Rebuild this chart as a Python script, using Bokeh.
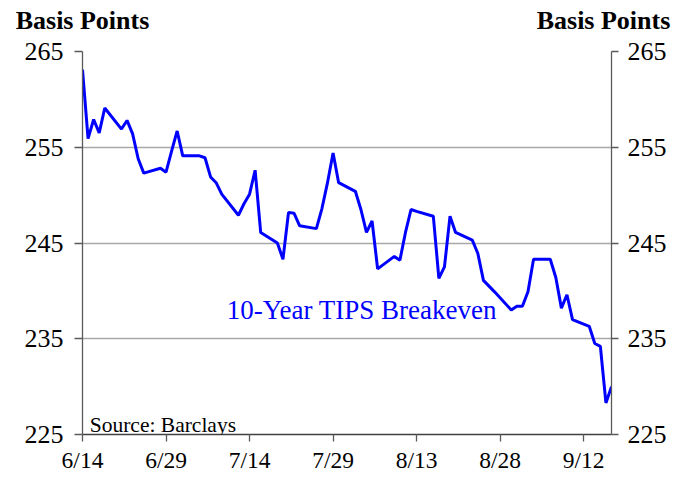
import pandas as pd
from bokeh.plotting import figure
from bokeh.models import Range1d, LinearAxis, FixedTicker, Label
from bokeh.embed import file_html
from bokeh.resources import INLINE

# ---- data ----
dates = ["2004-06-14", "2004-06-15", "2004-06-16", "2004-06-17", "2004-06-18",
         "2004-06-21", "2004-06-22", "2004-06-23", "2004-06-24", "2004-06-25",
         "2004-06-28", "2004-06-29", "2004-06-30", "2004-07-01", "2004-07-02",
         "2004-07-05", "2004-07-06", "2004-07-07", "2004-07-08", "2004-07-09",
         "2004-07-12", "2004-07-13", "2004-07-14", "2004-07-15", "2004-07-16",
         "2004-07-19", "2004-07-20", "2004-07-21", "2004-07-22", "2004-07-23",
         "2004-07-26", "2004-07-27", "2004-07-28", "2004-07-29", "2004-07-30",
         "2004-08-02", "2004-08-03", "2004-08-04", "2004-08-05", "2004-08-06",
         "2004-08-09", "2004-08-10", "2004-08-11", "2004-08-12", "2004-08-13",
         "2004-08-16", "2004-08-17", "2004-08-18", "2004-08-19", "2004-08-20",
         "2004-08-23", "2004-08-24", "2004-08-25", "2004-08-26", "2004-08-27",
         "2004-08-30", "2004-08-31", "2004-09-01", "2004-09-02", "2004-09-03",
         "2004-09-06", "2004-09-07", "2004-09-08", "2004-09-09", "2004-09-10",
         "2004-09-13", "2004-09-14", "2004-09-15", "2004-09-16", "2004-09-17"]
breakeven = [263.1, 255.9, 257.9, 256.5, 259.1,
             256.9, 257.8, 256.4, 253.8, 252.3,
             252.8, 252.4, 254.6, 256.7, 254.1,
             254.1, 253.9, 251.9, 251.3, 250.1,
             247.9, 249.1, 250.1, 252.6, 246.1,
             245.0, 243.3, 248.2, 248.1, 246.8,
             246.5, 248.6, 251.3, 254.4, 251.3,
             250.4, 248.5, 246.1, 247.3, 242.3,
             243.6, 243.2, 246.1, 248.5, 248.3,
             247.8, 241.3, 242.5, 247.8, 246.1,
             245.3, 243.9, 241.1, 240.5, 239.9,
             238.0, 238.4, 238.4, 239.9, 243.3,
             243.3, 241.4, 238.2, 239.6, 237.0,
             236.3, 234.5, 234.2, 228.3, 230.0]
start_date = "2004-06-14"
end_date = "2004-09-17"
x_tick_labels = ["6/14", "6/29", "7/14", "7/29", "8/13", "8/28", "9/12"]
y_ticks = [225, 235, 245, 255, 265]
series_name = "10-Year TIPS Breakeven"
source_text = "Source: Barclays"
axis_title = "Basis Points"

start = pd.Timestamp(start_date)
days = [(pd.Timestamp(d) - start).days for d in dates]
total_days = (pd.Timestamp(end_date) - start).days
x_ticks = [i * 15 for i in range(len(x_tick_labels))]

FONT = "Liberation Serif"
FRAME_W = 529

p = figure(frame_width=FRAME_W, frame_height=383,
           min_border_left=82, min_border_right=62,
           min_border_top=51, min_border_bottom=39,
           width=673, height=473,
           x_range=Range1d(0, total_days), y_range=Range1d(225, 265),
           output_backend="svg", toolbar_location=None,
           background_fill_color="white", border_fill_color="white")
p.outline_line_color = None

p.line(days, breakeven, line_color="#0000FF", line_width=3)

AX = "#5a5a5a"
for ax in [p.xaxis[0], p.yaxis[0]]:
    ax.axis_line_color = AX
    ax.axis_line_width = 1.3
    ax.major_tick_line_color = AX
    ax.major_tick_line_width = 1.3
    ax.minor_tick_line_color = None
    ax.major_tick_in = 0
    ax.major_label_text_font = FONT
    ax.major_label_text_color = "black"

p.xaxis[0].ticker = FixedTicker(ticks=x_ticks)
p.xaxis[0].major_label_overrides = {t: l for t, l in zip(x_ticks, x_tick_labels)}
p.xaxis[0].major_tick_out = 7
p.xaxis[0].major_label_standoff = 5
p.xaxis[0].major_label_text_font_size = "23.5px"
p.xaxis[0].axis_line_color = "#404040"

p.yaxis[0].ticker = FixedTicker(ticks=y_ticks)
p.yaxis[0].major_tick_out = 8
p.yaxis[0].major_label_standoff = 11
p.yaxis[0].major_label_text_font_size = "26px"

ry = LinearAxis(ticker=FixedTicker(ticks=y_ticks))
ry.axis_line_color = AX
ry.axis_line_width = 1.3
ry.major_tick_line_color = AX
ry.major_tick_line_width = 1.3
ry.minor_tick_line_color = None
ry.major_tick_in = 0
ry.major_tick_out = 7
ry.major_label_standoff = 9
ry.major_label_text_font = FONT
ry.major_label_text_font_size = "26px"
ry.major_label_text_color = "black"
p.add_layout(ry, "right")

# header captions "Basis Points" drawn as labels of an undecorated top axis
p.extra_x_ranges = {"hdr": Range1d(0, FRAME_W)}
hdr_ticks = [0, 521]
hdr = LinearAxis(x_range_name="hdr", ticker=FixedTicker(ticks=hdr_ticks),
                 major_label_overrides={t: axis_title for t in hdr_ticks})
hdr.axis_line_color = None
hdr.major_tick_line_color = None
hdr.minor_tick_line_color = None
hdr.major_tick_in = 0
hdr.major_tick_out = 0
hdr.major_label_standoff = 17
hdr.major_label_text_font = FONT
hdr.major_label_text_font_size = "26px"
hdr.major_label_text_font_style = "bold"
hdr.major_label_text_color = "black"
p.add_layout(hdr, "above")

p.xgrid.visible = False
p.ygrid.ticker = FixedTicker(ticks=y_ticks)
p.ygrid.grid_line_color = "#a8a8a8"
p.ygrid.grid_line_width = 1.3

p.add_layout(Label(x=25.9, y=238.0, text=series_name, text_font=FONT,
                   text_font_size="27px", text_color="#0000FF",
                   text_baseline="alphabetic", text_align="left"))
p.add_layout(Label(x=1.3, y=225.95, text=source_text, text_font=FONT,
                   text_font_size="21.5px", text_color="black",
                   text_baseline="alphabetic", text_align="left"))

open("out.html", "w").write(file_html(p, INLINE))
